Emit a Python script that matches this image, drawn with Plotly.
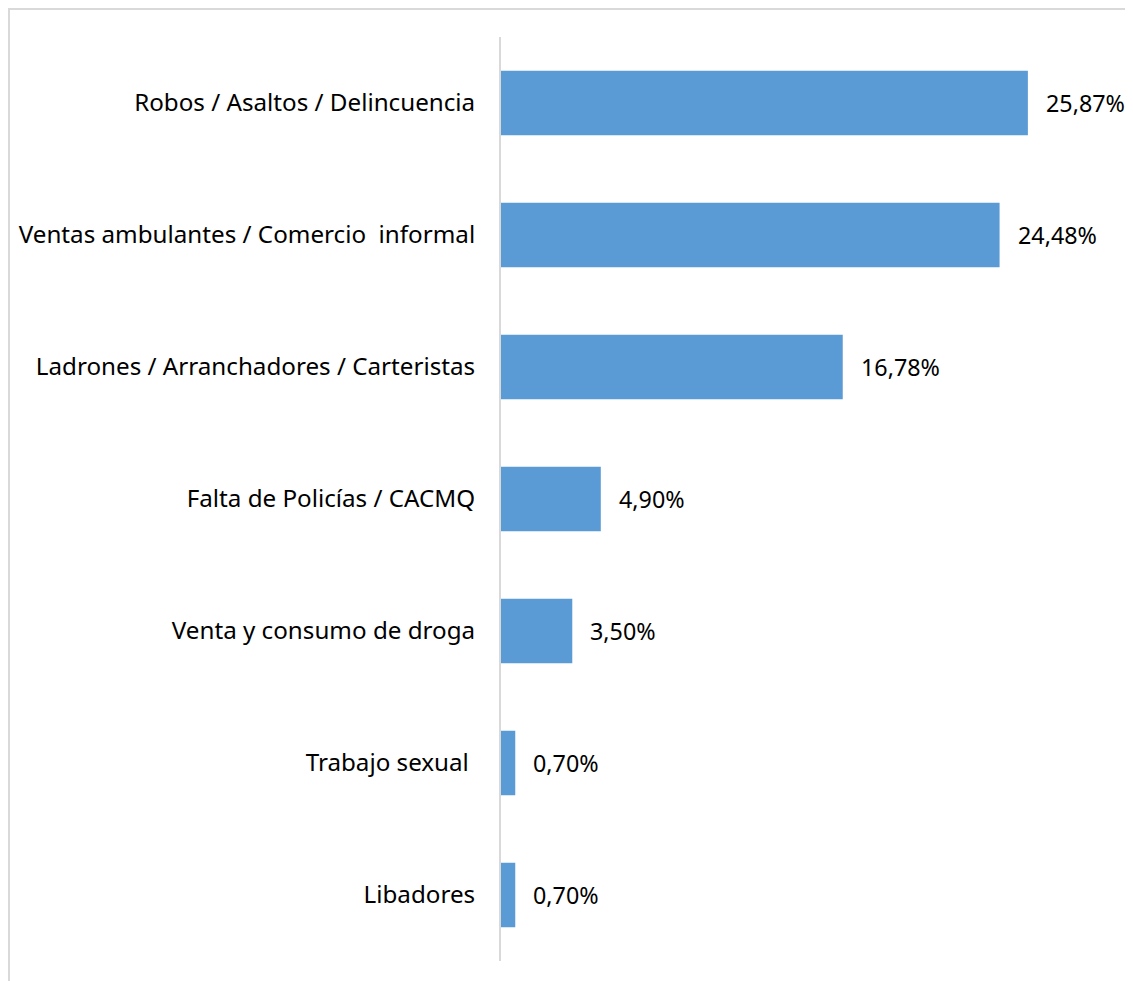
import plotly.graph_objects as go

categories = [
    "Robos / Asaltos / Delincuencia",
    "Ventas ambulantes / Comercio\u00a0\u00a0informal",
    "Ladrones / Arranchadores / Carteristas",
    "Falta de Policías / CACMQ",
    "Venta y consumo de droga",
    "Trabajo sexual\u00a0",
    "Libadores",
]
values = [25.87, 24.48, 16.78, 4.90, 3.50, 0.70, 0.70]
value_labels = ["25,87%", "24,48%", "16,78%", "4,90%", "3,50%", "0,70%", "0,70%"]

FONT = "'Noto Sans', Lato, sans-serif"
FSIZE = 24.2

fig = go.Figure(
    go.Bar(
        x=values,
        y=categories,
        orientation="h",
        marker=dict(color="#5B9BD5", line=dict(width=0)),
        hoverinfo="skip",
    )
)

for c, v, t in zip(categories, values, value_labels):
    fig.add_annotation(
        x=v, y=c, text=t, xref="x", yref="y",
        xanchor="left", yanchor="middle", xshift=16, showarrow=False,
        font=dict(family=FONT, size=23.3, color="#000000"),
    )

# chart area border (light gray)
fig.add_shape(
    type="rect", xref="paper", yref="paper",
    x0=-0.8052, x1=1.2, y0=-0.2, y1=1.0303,
    line=dict(color="#d9d9d9", width=2), fillcolor="rgba(0,0,0,0)", layer="below",
)

fig.update_layout(
    width=1133, height=981,
    margin=dict(l=493, r=29, t=29, b=28, autoexpand=False),
    paper_bgcolor="white", plot_bgcolor="white",
    bargap=0.51,
    showlegend=False,
    font=dict(family=FONT, size=FSIZE, color="#000000"),
    xaxis=dict(range=[0, 30], visible=False, fixedrange=True, automargin=False),
    yaxis=dict(
        categoryorder="array", categoryarray=categories, autorange="reversed",
        showline=True, linecolor="#d9d9d9", linewidth=2, automargin=False,
        showgrid=False, ticks="", ticklabelstandoff=19,
        tickfont=dict(family=FONT, size=FSIZE, color="#000000"),
    ),
)

fig.write_html("out.html")
